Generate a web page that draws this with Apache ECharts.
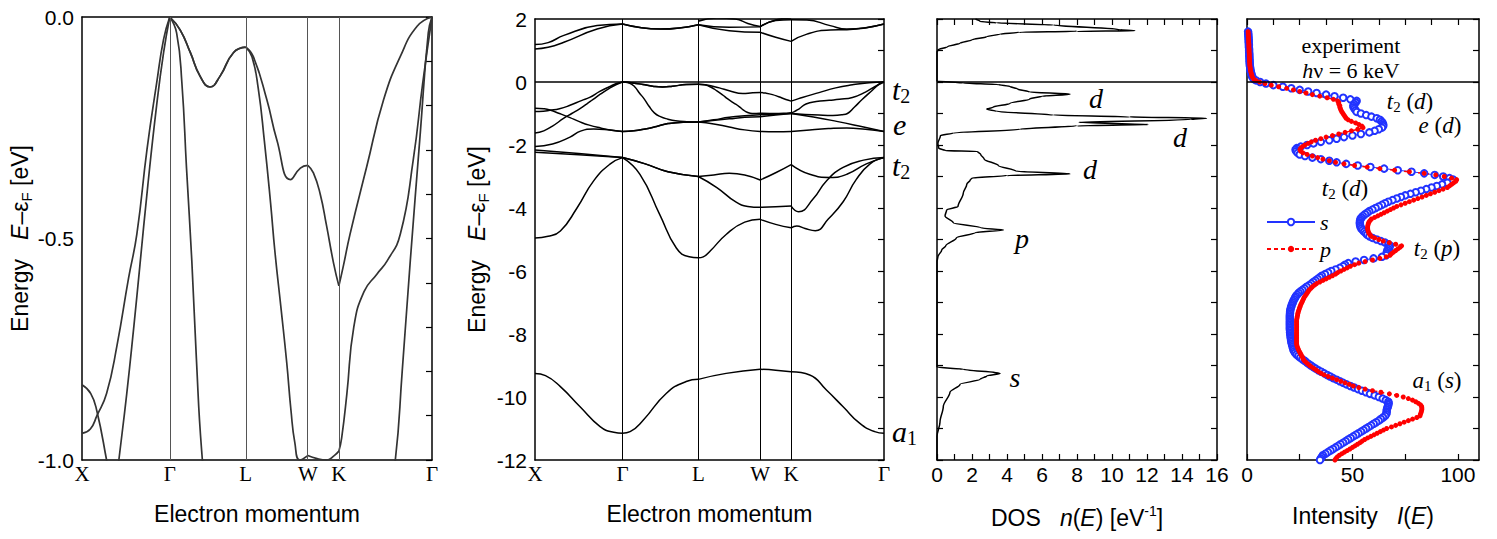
<!DOCTYPE html>
<html>
<head>
<meta charset="utf-8">
<title>Band structure, DOS and HAXPES intensity</title>
<script src="https://cdn.jsdelivr.net/npm/echarts@6/dist/echarts.min.js"></script>
<style>
html, body { margin: 0; padding: 0; background: #fff; }
#chart { width: 1497px; height: 539px; }
</style>
</head>
<body>
<div id="chart"></div>
<script>
// high symmetry points along the path (units of 2pi/a)
const kPoints = [0, 1, 1.866, 2.573, 2.927, 3.988];
const kLabels = ["X", "Γ", "L", "W", "K", "Γ"];

// bands as [s, E]; s = segment index + fraction (0: X-Γ, 1: Γ-L, 2: L-W, 3: W-K, 4: K-Γ)
const bandA = [[0,-0.94],[0.095,-0.93],[0.17,-0.9],[0.28,-0.85],[0.4,-0.74],[0.53,-0.59],[0.625,-0.49],[0.74,-0.3],[0.85,-0.15],[0.93,-0.05],[1,0],
  [1.136,-0.029],[1.27,-0.08],[1.4,-0.134],[1.53,-0.158],[1.66,-0.134],[1.84,-0.08],[2,-0.068],
  [2.12,-0.089],[2.34,-0.187],[2.5,-0.277],[2.72,-0.367],[2.88,-0.341],[3,-0.335],
  [3.18,-0.352],[3.4,-0.4],[3.6,-0.47],[3.83,-0.556],[4,-0.607],
  [4.05,-0.56],[4.12,-0.49],[4.3,-0.337],[4.48,-0.187],[4.66,-0.089],[4.84,-0.021],[5,0]];
const bandB = [[0,-1.62],[0.1,-1.55],[0.2,-1.4],[0.33,-1.15],[0.42,-1.0],[0.51,-0.85],[0.59,-0.7],[0.66,-0.56],[0.75,-0.38],[0.85,-0.2],[0.93,-0.08],[1,0],
  [1.136,-0.029],[1.27,-0.08],[1.4,-0.134],[1.53,-0.158],[1.66,-0.134],[1.84,-0.08],[2,-0.068],
  [2.1,-0.09],[2.2,-0.16],[2.3,-0.28],[2.4,-0.42],[2.47,-0.53],[2.57,-0.66],[2.66,-0.78],[2.73,-0.89],[2.79,-0.96],[2.87,-1.0],[3,-0.99],
  [3.3,-0.997],[3.6,-1.0],[3.85,-0.99],[4,-0.98],
  [4.03,-0.95],[4.086,-0.85],[4.16,-0.7],[4.27,-0.62],[4.41,-0.58],[4.52,-0.55],[4.66,-0.49],[4.8,-0.32],[4.9,-0.15],[5,0]];
const bandC = [[0,-0.83],[0.1,-0.85],[0.17,-0.89],[0.28,-1.0],[0.4,-1.13],[0.5,-1.25],[0.62,-1.37],[0.75,-1.46],[0.88,-1.53],[1,-1.57],
  [1.15,-1.55],[1.3,-1.49],[1.45,-1.41],[1.6,-1.32],[1.8,-1.275],[2,-1.27],
  [2.25,-1.33],[2.5,-1.43],[2.75,-1.52],[3,-1.57],
  [3.5,-1.58],[4,-1.57],
  [4.2,-1.52],[4.4,-1.48],[4.6,-1.46],[4.8,-1.5],[5,-1.57]];
const bandD = [[0,-2.05],[0.2,-1.97],[0.4,-1.75],[0.52,-1.56],[0.67,-1.49],[0.85,-1.52],[1,-1.57],
  [1.15,-1.55],[1.3,-1.49],[1.45,-1.41],[1.6,-1.32],[1.8,-1.275],[2,-1.27],
  [2.5,-1.17],[2.75,-1.12],[3,-1.1],
  [3.5,-1.05],[4,-1.0],
  [4.24,-1.11],[4.49,-1.25],[4.78,-1.43],[5,-1.57]];
const bandE = [[1,0],[1.09,-0.036],[1.16,-0.15],[1.22,-0.34],[1.29,-0.55],[1.35,-0.77],[1.42,-0.98],[1.5,-1.1],[1.6,-1.18],[1.7,-1.23],[1.85,-1.26],[2,-1.27],
  [2.25,-1.2],[2.5,-1.12],[2.75,-1.07],[3,-1.04],
  [3.5,-1.02],[4,-1.0],
  [4.15,-1.03],[4.3,-1.05],[4.45,-1.06],[4.55,-1.04],[4.606,-1.0],[4.68,-0.8],[4.767,-0.55],[4.875,-0.26],[4.96,-0.036],[5,0]];
const bandF = [[0,-2.16],[0.5,-2.27],[1,-2.4],
  [1.3,-2.6],[1.6,-2.85],[2,-3.0],
  [2.25,-2.95],[2.5,-2.9],[2.75,-2.95],[3,-3.11],
  [3.5,-2.88],[4,-2.62],
  [4.2,-2.93],[4.42,-3.03],[4.6,-2.93],[4.81,-2.6],[5,-2.4]];
const bandG = [[0,-2.23],[0.5,-2.31],[1,-2.4],
  [1.3,-2.6],[1.6,-2.85],[2,-3.0],
  [2.3,-3.35],[2.6,-3.8],[2.8,-3.95],[3,-3.98],
  [3.5,-3.96],[4,-3.94],
  [4.08,-4.12],[4.24,-3.7],[4.38,-3.14],[4.56,-2.71],[4.78,-2.48],[5,-2.4]];
const bandH = [[0,-4.95],[0.15,-4.9],[0.29,-4.73],[0.48,-4.0],[0.67,-3.14],[0.86,-2.6],[1,-2.4],
  [1.23,-2.93],[1.49,-4.2],[1.71,-5.27],[1.88,-5.55],[2,-5.58],
  [2.08,-5.55],[2.2,-5.35],[2.45,-4.84],[2.75,-4.45],[3,-4.36],
  [3.5,-4.52],[4,-4.63],
  [4.06,-4.57],[4.15,-4.65],[4.26,-4.72],[4.4,-4.35],[4.56,-3.8],[4.7,-3.1],[4.85,-2.6],[5,-2.4]];
const bandA1 = [[0,-9.25],[0.12,-9.32],[0.29,-9.67],[0.515,-10.31],[0.744,-10.94],[0.9,-11.12],[1,-11.15],
  [1.1,-11.1],[1.275,-10.73],[1.58,-9.88],[1.84,-9.51],[2,-9.44],
  [2.45,-9.25],[3,-9.12],
  [3.5,-9.15],[4,-9.2],
  [4.2,-9.3],[4.38,-9.78],[4.56,-10.31],[4.74,-10.84],[4.9,-11.1],[5,-11.15]];
const bandC1 = [[0,1.05],[0.15,1.1],[0.33,1.26],[0.71,1.68],[1,1.84],
  [1.5,1.68],[2,1.82],
  [2.5,1.63],[3,1.58],
  [3.5,1.42],[4,1.29],
  [4.17,1.52],[4.42,1.65],[4.6,1.66],[5,1.84]];
const bandC2 = [[0,1.19],[0.15,1.25],[0.33,1.48],[0.71,1.79],[1,1.84],
  [1.5,1.68],[2,1.82],
  [2.5,1.74],[3,1.75],
  [3.5,1.95],[4,1.98],
  [4.17,1.97],[4.42,1.79],[4.6,1.68],[5,1.84]];
const bandC3 = [[2,1.93],[2.3,2.03],[2.6,2.0],[2.8,1.86],[3,1.76],
  [3.5,1.97],[4,2.03]];

// total DOS
const dosValues = [2.2,2.46,3.4,6.65,10.46,11.3,8,4.7,3.6,2.84,2.0,1.31,0.6,0.06,0,0,
  0,1.5,3.5,4.17,4.6,5.3,7.6,6,5.3,4.17,3.2,2.84,3.4,6.65,11,15.4,14.5,8.1,12.06,8,4.74,0.93,0.2,0.05,0.1,0.5,2.3,2.5,2.7,3.5,4.5,7.6,4,2,1.9,1.7,1.5,1.2,0.55,0.46,0.93,2.5,3.8,2.2,1.1,0.5,0.27,0.05,0,
  0,1.5,3.6,2.84,2.46,1.31,0.74,0.36,0.17,0,0];
const dosEnergy = [2.0,1.92,1.88,1.81,1.66,1.63,1.61,1.58,1.52,1.44,1.34,1.23,1.12,1.02,0.95,0.02,
  0,-0.03,-0.08,-0.14,-0.22,-0.32,-0.385,-0.45,-0.54,-0.68,-0.8,-0.86,-0.93,-1.05,-1.11,-1.15,-1.19,-1.28,-1.35,-1.39,-1.5,-1.62,-1.7,-1.95,-2.1,-2.18,-2.2,-2.3,-2.45,-2.65,-2.83,-2.92,-2.97,-3.05,-3.11,-3.25,-3.53,-3.95,-4.06,-4.25,-4.47,-4.63,-4.7,-4.78,-4.95,-5.2,-5.33,-5.55,-5.7,
  -9.05,-9.12,-9.25,-9.33,-9.44,-9.6,-9.85,-10.3,-10.8,-11.25,-12];

// experiment, hv = 6 keV
const expEnergy = [
  1.6,1.55,1.5,1.45,1.4,1.35,1.3,1.25,1.2,1.15,
  1.1,1.05,1,0.95,0.9,0.85,0.8,0.75,0.7,0.65,
  0.6,0.55,0.5,0.45,0.4,0.35,0.3,0.25,0.2,0.15,
  0.1,0.05,0,-0.05,-0.1,-0.15,-0.2,-0.25,-0.3,-0.35,
  -0.4,-0.45,-0.5,-0.55,-0.6,-0.65,-0.7,-0.75,-0.8,-0.85,
  -0.9,-0.95,-1,-1.05,-1.1,-1.15,-1.2,-1.25,-1.3,-1.35,
  -1.4,-1.45,-1.5,-1.55,-1.6,-1.65,-1.7,-1.75,-1.8,-1.85,
  -1.9,-1.95,-2,-2.05,-2.1,-2.15,-2.2,-2.25,-2.3,-2.35,
  -2.4,-2.45,-2.5,-2.55,-2.6,-2.65,-2.7,-2.75,-2.8,-2.85,
  -2.9,-2.95,-3,-3.05,-3.1,-3.15,-3.2,-3.25,-3.3,-3.35,
  -3.4,-3.45,-3.5,-3.55,-3.6,-3.65,-3.7,-3.75,-3.8,-3.85,
  -3.9,-3.95,-4,-4.05,-4.1,-4.15,-4.2,-4.25,-4.3,-4.35,
  -4.4,-4.45,-4.5,-4.55,-4.6,-4.65,-4.7,-4.75,-4.8,-4.85,
  -4.9,-4.95,-5,-5.05,-5.1,-5.15,-5.2,-5.25,-5.3,-5.35,
  -5.4,-5.45,-5.5,-5.55,-5.6,-5.65,-5.7,-5.75,-5.8,-5.85,
  -5.9,-5.95,-6,-6.05,-6.1,-6.15,-6.2,-6.25,-6.3,-6.35,
  -6.4,-6.45,-6.5,-6.55,-6.6,-6.65,-6.7,-6.75,-6.8,-6.85,
  -6.9,-6.95,-7,-7.05,-7.1,-7.15,-7.2,-7.25,-7.3,-7.35,
  -7.4,-7.45,-7.5,-7.55,-7.6,-7.65,-7.7,-7.75,-7.8,-7.85,
  -7.9,-7.95,-8,-8.05,-8.1,-8.15,-8.2,-8.25,-8.3,-8.35,
  -8.4,-8.45,-8.5,-8.55,-8.6,-8.65,-8.7,-8.75,-8.8,-8.85,
  -8.9,-8.95,-9,-9.05,-9.1,-9.15,-9.2,-9.25,-9.3,-9.35,
  -9.4,-9.45,-9.5,-9.55,-9.6,-9.65,-9.7,-9.75,-9.8,-9.85,
  -9.9,-9.95,-10,-10.05,-10.1,-10.15,-10.2,-10.25,-10.3,-10.35,
  -10.4,-10.45,-10.5,-10.55,-10.6,-10.65,-10.7,-10.75,-10.8,-10.85,
  -10.9,-10.95,-11,-11.05,-11.1,-11.15,-11.2,-11.25,-11.3,-11.35,
  -11.4,-11.45,-11.5,-11.55,-11.6,-11.65,-11.7,-11.75,-11.8,-11.85,
  -11.9,-11.95,-12];
const intensityS = [
  0.5,0.6,0.6,0.7,0.7,0.8,0.8,0.8,0.9,0.9,
  0.9,1.0,1.0,1.0,1.1,1.1,1.1,1.2,1.2,1.2,
  1.3,1.3,1.4,1.5,1.6,1.7,1.9,2.1,2.3,2.6,
  3.1,4.3,6.2,9,12.5,17,21,25,29,33,
  37.5,41.5,45.6,49,52,51.5,50.8,50.4,50.5,51,
  51.5,52,54,56.5,59,61.5,63,63.8,64.3,64.6,
  64.6,64,62.5,60.5,58,54,50,46,42.5,39,
  35,31.5,28.5,25.5,23.6,23,23.3,24,25,27.5,
  31,35,39,42.5,47,52.5,58.5,65,71.5,78,
  84,89,93,96,97.8,97,95,92.5,90,87.5,
  85,82.5,80,77.5,75,73,71,69,67,65.5,
  64,62.5,61,59.5,58,57,56,55,54.3,53.8,
  53.6,53.5,53.5,53.6,53.8,54.2,54.8,55.5,56.3,57,
  58,59.5,61.5,63.5,65.5,67,67.8,67.5,67,66.5,
  66.3,66.2,66,64,60,55.5,51.5,48,46.5,45.6,
  44,42,40,38.5,37,35.5,34.6,33.5,32.5,31.5,
  30.5,29.5,28.3,27.3,26.3,25.3,24.5,23.8,23.2,22.8,
  22.4,22,21.7,21.4,21.1,20.9,20.7,20.5,20.4,20.4,
  20.3,20.3,20.3,20.3,20.3,20.3,20.3,20.3,20.3,20.3,
  20.4,20.4,20.5,20.6,20.7,20.8,20.9,21,21.2,21.4,
  21.6,21.8,22,22.3,22.8,23.5,24.3,25.2,26.2,27.3,
  28.2,29.2,30.3,31.4,32.6,33.8,35.2,36.6,38,39.4,
  40.8,42.5,44,45.6,47.2,49,50.8,52.6,54.5,56.4,
  58.3,60.5,62.5,64.3,65.8,67,67.2,67,66.8,66.5,
  66.3,66.2,66.2,66,65.5,64.5,63.5,62.5,61.3,60.1,
  58.9,57.7,56.5,55.3,54.1,52.9,51.7,50.4,49.2,48,
  46.8,45.6,44.4,43.2,42,40.8,39.6,38.4,37.2,36,
  35.5,35,34.6];
const intensityP = [
  0.5,0.6,0.6,0.7,0.7,0.8,0.8,0.8,0.9,0.9,
  0.9,1.0,1.0,1.0,1.1,1.1,1.1,1.2,1.2,1.2,
  1.3,1.3,1.4,1.5,1.6,1.7,1.9,2.1,2.3,2.6,
  3.1,4.2,6.0,8.5,11.5,15,18.8,22,25,28,
  31,34.5,38,41,43,43.5,43.5,44,44,44.3,
  44.6,45,45.5,46,46.5,47,48,49.5,51.5,53,
  54.5,55,52.5,49.5,46.5,43.5,40.5,37.5,35,32.5,
  30.5,29,27.5,26.3,25.5,25.1,25.5,26.5,28.5,31,
  33.5,36,39,42,46,51,57,63,70,77,
  84,89.5,93.5,97,99.4,99,98,97,96,95,
  93,91,89,87,85,83,81,79,77,75,
  73,71,69.5,68,66.5,65,63.5,62,60.5,59,
  58.3,57.8,57.5,57.3,57.2,57.2,57.3,57.5,57.8,58.3,
  59,60.5,62.5,64.6,67.5,70.5,73.3,72.5,71.5,70.5,
  69.5,68.5,67.8,66,63,59.5,56,53,51,49,
  47.5,46,44.5,43,42,40.5,39,37.5,36,34.5,
  33,32,31,30.3,29.5,29,28.5,28,27.5,27,
  26.7,26.3,26,25.6,25.3,25,24.8,24.5,24.3,24.1,
  24,23.8,23.7,23.5,23.5,23.5,23.5,23.5,23.5,23.5,
  23.5,23.5,23.5,23.5,23.5,23.5,23.5,23.5,23.5,23.6,
  23.8,24.1,24.4,24.8,25.2,25.6,26,26.4,26.7,27.2,
  28,28.8,29.7,30.7,31.8,32.9,34,35.2,36.6,38.5,
  40.5,42.5,44.5,46.5,48.5,50.4,53,56,59.5,63.5,
  67.5,71,74.1,76.5,78.5,80,81.3,82.3,82.8,82.9,
  82.9,82.7,82.5,82.2,82,80.5,78.5,76.5,74.5,72.5,
  70.5,68.5,66.2,64.7,63.2,61.7,60.2,58.7,57.2,55.8,
  54.6,53.6,52.4,51.2,50,48.8,47.5,46.2,45,43.8,
  42.8,42.2,41.7];

const dosTicks = [0,1,2,3,4,5,6,7,8,9,10,11,12,13,14,15,16];
const dosLabels = [0,2,4,6,8,10,12,14,16];
const eTicks = [-12,-11,-10,-9,-8,-7,-6,-5,-4,-3,-2,-1,0,1,2];
const zoomTicks = [-1,-0.9,-0.8,-0.7,-0.6,-0.5,-0.4,-0.3,-0.2,-0.1,0];
const intLabels = [0,50,100];
const intTicksBottom = [0,25,50,75,100];
const intTicksTop = [0,12.5,25,37.5,50,62.5,75,87.5,100];

const SANS = "Liberation Sans";
const SERIF = "Liberation Serif";

const bands = [bandA, bandB, bandC, bandD, bandE, bandF, bandG, bandH, bandA1, bandC1, bandC2, bandC3];

function kOf(s) {
  const i = Math.min(Math.floor(s), 4);
  return kPoints[i] + (s - i) * (kPoints[i + 1] - kPoints[i]);
}
// one smooth piece per path segment, so the kinks at symmetry points stay
function splitSegments(band) {
  const out = [];
  for (let i = 0; i < 5; i++) {
    const seg = band.filter(p => p[0] >= i && p[0] <= i + 1).map(p => [kOf(p[0]), p[1]]);
    if (seg.length > 1) out.push(seg);
  }
  return out;
}

const chart = echarts.init(document.getElementById("chart"), null, { renderer: "svg" });

const frame = { onZero: false, lineStyle: { color: "#000", width: 1.5 } };
const tickLabel = { color: "#000", fontFamily: SANS, fontSize: 21 };
const nameRich = {
  a: { color: "#000", fontFamily: SANS, fontSize: 23, lineHeight: 28 },
  i: { color: "#000", fontFamily: SANS, fontStyle: "italic", fontSize: 23, lineHeight: 28 },
  s: { color: "#000", fontFamily: SANS, fontSize: 15, lineHeight: 12, verticalAlign: "bottom" },
  p: { color: "#000", fontFamily: SANS, fontSize: 14, lineHeight: 12, verticalAlign: "top" }
};
const energyName = "{a|Energy   }{i|E}{a|–ε}{s|F}{a| [eV]}";

const kLabel = {
  customValues: kPoints,
  formatter: v => kLabels[kPoints.findIndex(k => Math.abs(k - v) < 1e-6)],
  color: "#000", fontFamily: SERIF, fontSize: 21, margin: 3
};

function kAxes(grid) {
  return [{
    gridIndex: grid, type: "value", min: 0, max: 3.988, position: "bottom",
    axisLine: frame, axisTick: { show: false }, splitLine: { show: false }, axisLabel: kLabel,
    name: "Electron momentum", nameLocation: "middle", nameGap: 42,
    nameTextStyle: { color: "#000", fontFamily: SANS, fontSize: 23 }
  }, {
    gridIndex: grid, type: "value", min: 0, max: 3.988, position: "top",
    axisLine: frame, axisTick: { show: false }, splitLine: { show: false }, axisLabel: { show: false }
  }];
}
function tickAxis(grid, pos, min, max, ticks) {
  return {
    gridIndex: grid, type: "value", min, max, position: pos,
    axisLine: frame, splitLine: { show: false }, axisLabel: { show: false },
    axisTick: ticks ? { customValues: ticks, inside: true, length: 6, lineStyle: { color: "#000", width: 1.2 } } : { show: false }
  };
}

const xAxis = [
  ...kAxes(0), ...kAxes(1),
  {
    gridIndex: 2, type: "value", min: 0, max: 16, position: "bottom",
    axisLine: frame, splitLine: { show: false },
    axisTick: { customValues: dosTicks, inside: true, length: 6, lineStyle: { color: "#000", width: 1.2 } },
    axisLabel: Object.assign({ customValues: dosLabels, margin: 4 }, tickLabel),
    name: "{a|DOS   }{i|n}{a|(}{i|E}{a|) [eV}{p|-1}{a|]}", nameLocation: "middle", nameGap: 44,
    nameTextStyle: { rich: nameRich }
  },
  tickAxis(2, "top", 0, 16, dosTicks),
  {
    gridIndex: 3, type: "value", min: 0, max: 110, position: "bottom",
    axisLine: frame, splitLine: { show: false },
    axisTick: { customValues: intTicksBottom, inside: true, length: 6, lineStyle: { color: "#000", width: 1.2 } },
    axisLabel: Object.assign({ customValues: intLabels, margin: 4 }, tickLabel),
    name: "{a|Intensity   }{i|I}{a|(}{i|E}{a|)}", nameLocation: "middle", nameGap: 42,
    nameTextStyle: { rich: nameRich }
  },
  tickAxis(3, "top", 0, 110, intTicksTop)
];

const yAxis = [
  {
    gridIndex: 0, type: "value", min: -1, max: 0, interval: 0.5, position: "left",
    axisLine: frame, axisTick: { show: false }, splitLine: { show: false },
    axisLabel: Object.assign({ formatter: v => v.toFixed(1), margin: 8 }, tickLabel),
    name: energyName, nameLocation: "middle", nameGap: 48, nameTextStyle: { rich: nameRich }
  },
  tickAxis(0, "right", -1, 0, zoomTicks),
  {
    gridIndex: 1, type: "value", min: -12, max: 2, interval: 2, position: "left",
    axisLine: frame, axisTick: { show: false }, splitLine: { show: false },
    axisLabel: Object.assign({ margin: 8 }, tickLabel),
    name: energyName, nameLocation: "middle", nameGap: 44, nameTextStyle: { rich: nameRich }
  },
  tickAxis(1, "right", -12, 2, eTicks),
  tickAxis(2, "left", -12, 2, eTicks),
  tickAxis(2, "right", -12, 2, eTicks),
  tickAxis(3, "left", -12, 2, null),
  tickAxis(3, "right", -12, 2, eTicks)
];

const series = [];
function addBands(axis, color, width) {
  bands.forEach(b => splitSegments(b).forEach(seg => series.push({
    type: "line", xAxisIndex: axis, yAxisIndex: axis, data: seg,
    symbol: "none", smooth: 0.5, silent: true,
    lineStyle: { color, width }, z: 3
  })));
}
function symmetryLines(axis, color, withZero) {
  const data = kPoints.slice(1, 5).map(k => ({ xAxis: k }));
  if (withZero) data.push({ yAxis: 0, lineStyle: { width: 1.5 } });
  series.push({
    type: "line", xAxisIndex: axis, yAxisIndex: axis, data: [], silent: true,
    markLine: { silent: true, symbol: "none", label: { show: false }, animation: false,
      lineStyle: { color, width: 1, type: "solid" }, data }
  });
}
addBands(0, "#333", 1.7);
symmetryLines(0, "#555", false);
addBands(2, "#000", 1.5);
symmetryLines(2, "#000", true);

series.push({
  type: "line", xAxisIndex: 4, yAxisIndex: 4, silent: true,
  data: dosValues.map((n, i) => [n, dosEnergy[i]]),
  symbol: "none", smooth: 0.3, smoothMonotone: "y",
  lineStyle: { color: "#000", width: 1.5 },
  markLine: { silent: true, symbol: "none", label: { show: false },
    lineStyle: { color: "#000", width: 1.5, type: "solid" }, data: [{ yAxis: 0 }] }
});

series.push({
  name: "s", type: "line", xAxisIndex: 6, yAxisIndex: 6,
  data: intensityS.map((v, i) => [v, expEnergy[i]]),
  symbol: "emptyCircle", symbolSize: 6.5, showAllSymbol: true,
  itemStyle: { color: "#2233ff", borderWidth: 1 },
  lineStyle: { color: "#2233ff", width: 1 },
  markLine: { silent: true, symbol: "none", label: { show: false },
    lineStyle: { color: "#000", width: 1.5, type: "solid" }, data: [{ yAxis: 0 }] }
});
series.push({
  name: "p", type: "line", xAxisIndex: 6, yAxisIndex: 6,
  data: intensityP.map((v, i) => [v, expEnergy[i]]),
  symbol: "circle", symbolSize: 5, showAllSymbol: true,
  itemStyle: { color: "#ff0000" },
  lineStyle: { color: "#ff0000", width: 1.5, type: [4, 3] }
});

// text labels on the panels
const itRich = size => ({
  i: { fontFamily: SERIF, fontStyle: "italic", fontSize: size, lineHeight: size + 4, color: "#000" },
  r: { fontFamily: SERIF, fontSize: size, lineHeight: size + 4, color: "#000" },
  b: { fontFamily: SERIF, fontSize: Math.round(size * 0.66), lineHeight: Math.round(size * 0.5), verticalAlign: "bottom", color: "#000" }
});
function note(x, y, text, size, align) {
  return {
    type: "text", x, y, silent: true,
    style: { text, rich: itRich(size), fill: "#000", font: size + "px " + SERIF,
      textAlign: align || "center", align: align || "center",
      textVerticalAlign: "middle", verticalAlign: "middle" }
  };
}
const graphic = [
  note(892, 89, "{i|t}{b|2}", 30, "left"),
  note(893, 124, "{i|e}", 30, "left"),
  note(892, 165, "{i|t}{b|2}", 30, "left"),
  note(892, 431, "{i|a}{b|1}", 30, "left"),
  note(1096, 98, "{i|d}", 28),
  note(1180, 137, "{i|d}", 28),
  note(1090, 169, "{i|d}", 28),
  note(1022, 238, "{i|p}", 28),
  note(1015, 377, "{i|s}", 28),
  note(1351, 45, "{r|experiment}", 22),
  note(1351, 70, "{i|h}{r|ν = 6 keV}", 22),
  note(1410, 101, "{i|t}{b|2}{r| (}{i|d}{r|)}", 23),
  note(1440, 125, "{i|e}{r| (}{i|d}{r|)}", 23),
  note(1345, 188, "{i|t}{b|2}{r| (}{i|d}{r|)}", 23),
  note(1437, 248, "{i|t}{b|2}{r| (}{i|p}{r|)}", 23),
  note(1437, 380, "{i|a}{b|1}{r| (}{i|s}{r|)}", 23)
];

chart.setOption({
  animation: false,
  backgroundColor: "#fff",
  grid: [
    { left: 82, top: 17, width: 350, height: 443 },
    { left: 535, top: 19, width: 349, height: 441 },
    { left: 937, top: 19, width: 280, height: 441 },
    { left: 1247, top: 19, width: 232, height: 441 }
  ],
  legend: {
    data: ["s", "p"], orient: "vertical", left: 1261, top: 206,
    itemWidth: 48, itemHeight: 8, itemGap: 5,
    textStyle: { fontFamily: SERIF, fontStyle: "italic", fontSize: 22, color: "#000" }
  },
  xAxis,
  yAxis,
  series,
  graphic
});
</script>
</body>
</html>
